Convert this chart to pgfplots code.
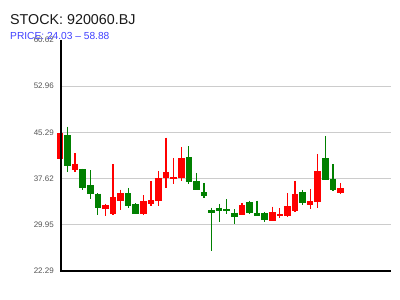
\documentclass[border=0pt]{standalone}
\usepackage{pgfplots}
\pgfplotsset{compat=1.18}
\usepackage{pgfplotstable}
\usetikzlibrary{calc}
\usepackage{fontspec}
\setmainfont{Liberation Sans}
\definecolor{upred}{HTML}{FF0000}
\definecolor{dngreen}{HTML}{008000}
\definecolor{tickgray}{HTML}{555555}
\definecolor{gridgray}{HTML}{CCCCCC}
\definecolor{subblue}{HTML}{4040FF}

\pgfplotstableread{
x top bot hi lo
0 45.23 40.85 45.23 40.85
2 40.12 39.01 41.79 38.73
6 33.18 32.51 33.46 31.40
7 34.51 31.68 40.01 31.51
8 35.23 33.90 35.79 32.35
11 33.85 31.68 34.85 31.51
12 34.01 33.40 37.18 33.01
13 37.79 33.85 38.90 33.07
14 38.73 37.79 44.40 36.01
15 37.82 37.60 41.07 36.79
16 41.01 37.73 42.90 37.23
24 33.18 31.57 33.51 31.57
28 32.00 30.57 32.96 30.57
29 31.73 31.35 32.73 31.07
30 33.01 31.35 35.23 31.18
31 35.07 32.23 37.23 32.07
33 33.90 33.23 35.90 32.51
34 38.84 33.79 41.73 32.73
37 36.01 35.23 36.90 35.01
}\redtable

\pgfplotstableread{
x top bot hi lo
1 44.85 39.73 46.23 38.73
3 39.18 36.07 39.29 35.79
4 36.51 35.07 39.01 34.18
5 35.12 32.68 35.23 31.62
9 35.18 33.01 36.07 32.79
10 33.35 31.73 33.57 31.68
17 41.18 37.07 43.01 36.79
18 37.18 35.79 38.57 35.79
19 35.35 34.73 36.90 34.46
20 32.35 31.96 32.79 25.57
21 32.79 32.23 33.35 30.40
22 32.57 32.18 34.18 31.79
23 31.96 31.18 32.57 30.01
25 33.68 31.90 33.96 31.79
26 31.96 31.35 33.96 31.35
27 31.85 30.79 32.12 30.40
32 35.40 33.62 35.73 33.29
35 41.01 37.40 44.73 37.40
36 37.51 35.73 40.01 35.57
}\greentable

\begin{document}
\begin{tikzpicture}
\begin{axis}[
  scale only axis, width=330pt, height=231pt,
  xmin=0.145, xmax=43.66,
  ymin=22.29, ymax=60.62,
  clip=false,
  axis line style={draw=none},
  xtick=\empty,
  ytick={22.29,29.95,37.62,45.29,52.96,60.62},
  yticklabels={22.29,29.95,37.62,45.29,52.96,60.62},
  extra y ticks={29.95,37.62,45.29,52.96},
  extra y tick labels={},
  extra y tick style={grid=major, major grid style={gridgray, line width=0.9pt}},
  major tick length=0pt,
  ytick style={draw=none},
  yticklabel style={font=\fontsize{8}{8}\selectfont, text=tickgray, anchor=east, inner sep=0pt, xshift=-7pt},
  /pgf/number format/assume math mode=true,
]
\coordinate (sw) at (rel axis cs:0,0);
% wicks
\addplot[draw=none, mark=none,
  error bars/.cd, y dir=minus, y explicit, error mark=none,
  error bar style={line width=1.3pt, draw=upred}]
  table[x=x, y=hi, y error minus expr=\thisrow{hi}-\thisrow{lo}] {\redtable};
\addplot[draw=none, mark=none,
  error bars/.cd, y dir=minus, y explicit, error mark=none,
  error bar style={line width=1.3pt, draw=dngreen}]
  table[x=x, y=hi, y error minus expr=\thisrow{hi}-\thisrow{lo}] {\greentable};
% bodies
\addplot[draw=none, mark=none,
  error bars/.cd, y dir=minus, y explicit, error mark=none,
  error bar style={line width=6.6pt, draw=upred}]
  table[x=x, y=top, y error minus expr=\thisrow{top}-\thisrow{bot}] {\redtable};
\addplot[draw=none, mark=none,
  error bars/.cd, y dir=minus, y explicit, error mark=none,
  error bar style={line width=6.6pt, draw=dngreen}]
  table[x=x, y=top, y error minus expr=\thisrow{top}-\thisrow{bot}] {\greentable};
\draw[black, line width=2pt] (rel axis cs:0,1) -- (rel axis cs:0,0) -- (rel axis cs:1,0);
\end{axis}
\path[use as bounding box] ($(sw)+(-61pt,-29pt)$) rectangle ++(400pt,300pt);
\node[anchor=base west, inner sep=0pt, text=black!90] at ($(sw)+(-51pt,246pt)$) {\fontsize{14.3}{14.3}\selectfont STOCK: 920060.BJ};
\node[anchor=base west, inner sep=0pt, text=subblue] at ($(sw)+(-51pt,231pt)$) {\fontsize{10.2}{10.2}\selectfont PRICE: 24.03 – 58.88};
\end{tikzpicture}
\end{document}
